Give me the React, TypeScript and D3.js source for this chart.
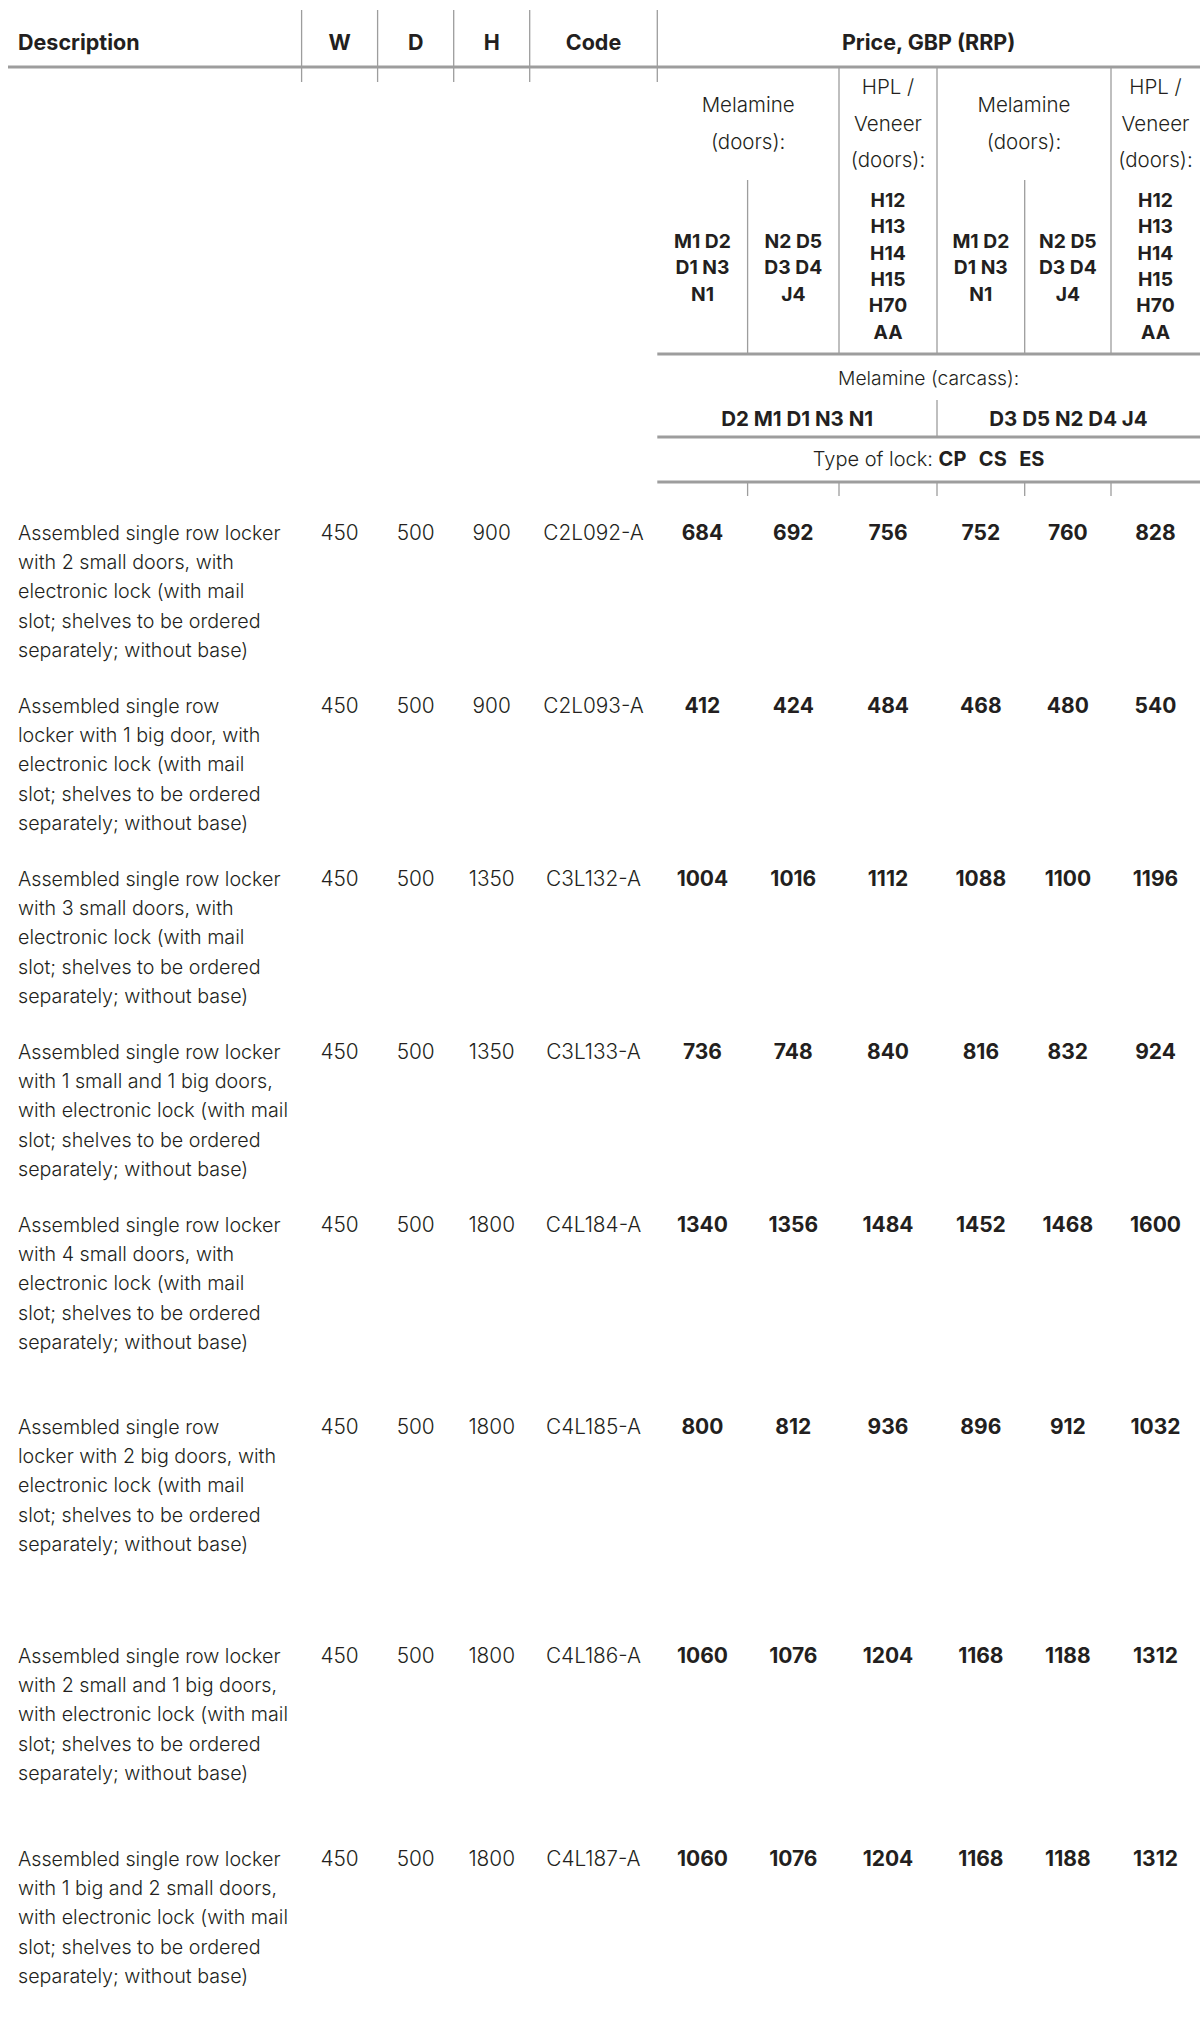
import React from "react";
import * as d3 from "d3";

// ---------- DATA ----------
const headerLabels = ["Description", "W", "D", "H", "Code"];
const priceTitle = "Price, GBP (RRP)";
const melamineDoorsLabel = ["Melamine", "(doors):"];
const hplDoorsLabel = ["HPL /", "Veneer", "(doors):"];
const melamineGroup1 = ["M1 D2", "D1 N3", "N1"];
const melamineGroup2 = ["N2 D5", "D3 D4", "J4"];
const hplGroup = ["H12", "H13", "H14", "H15", "H70", "AA"];
const carcassLabel = "Melamine (carcass):";
const carcassGroups = ["D2 M1 D1 N3 N1", "D3 D5 N2 D4 J4"];
const lockLabel = "Type of lock:";
const lockTypes = "CP  CS  ES";

const descriptions: string[][] = [
  ["Assembled single row locker", "with 2 small doors, with", "electronic lock (with mail", "slot; shelves to be ordered", "separately; without base)"],
  ["Assembled single row", "locker with 1 big door, with", "electronic lock (with mail", "slot; shelves to be ordered", "separately; without base)"],
  ["Assembled single row locker", "with 3 small doors, with", "electronic lock (with mail", "slot; shelves to be ordered", "separately; without base)"],
  ["Assembled single row locker", "with 1 small and 1 big doors,", "with electronic lock (with mail", "slot; shelves to be ordered", "separately; without base)"],
  ["Assembled single row locker", "with 4 small doors, with", "electronic lock (with mail", "slot; shelves to be ordered", "separately; without base)"],
  ["Assembled single row", "locker with 2 big doors, with", "electronic lock (with mail", "slot; shelves to be ordered", "separately; without base)"],
  ["Assembled single row locker", "with 2 small and 1 big doors,", "with electronic lock (with mail", "slot; shelves to be ordered", "separately; without base)"],
  ["Assembled single row locker", "with 1 big and 2 small doors,", "with electronic lock (with mail", "slot; shelves to be ordered", "separately; without base)"],
];
const widthsMM = [450, 450, 450, 450, 450, 450, 450, 450];
const depthsMM = [500, 500, 500, 500, 500, 500, 500, 500];
const heightsMM = [900, 900, 1350, 1350, 1800, 1800, 1800, 1800];
const codes = ["C2L092-A", "C2L093-A", "C3L132-A", "C3L133-A", "C4L184-A", "C4L185-A", "C4L186-A", "C4L187-A"];

const priceCarcassA_Mel1 = [684, 412, 1004, 736, 1340, 800, 1060, 1060];
const priceCarcassA_Mel2 = [692, 424, 1016, 748, 1356, 812, 1076, 1076];
const priceCarcassA_HPL = [756, 484, 1112, 840, 1484, 936, 1204, 1204];
const priceCarcassB_Mel1 = [752, 468, 1088, 816, 1452, 896, 1168, 1168];
const priceCarcassB_Mel2 = [760, 480, 1100, 832, 1468, 912, 1188, 1188];
const priceCarcassB_HPL = [828, 540, 1196, 924, 1600, 1032, 1312, 1312];

// ---------- LAYOUT ----------
const WIDTH = 1200;
const HEIGHT = 2022;
const colKeys = ["desc", "w", "d", "h", "code", "p1", "p2", "p3", "p4", "p5", "p6"];
const colEdges = [8, 301.6, 377.6, 453.7, 529.7, 657.3, 747.6, 839, 937, 1024.7, 1111, 1200];
const rowTops = [533, 706, 879, 1052, 1225, 1427, 1656, 1859];

const INK = "#231f20";
const RULE = "#9d9d9d";
const FONT = "Inter, 'Noto Sans', sans-serif";

export default function App() {
  const colIndex = d3.scaleOrdinal<string, number>().domain(colKeys).range(d3.range(colKeys.length));
  const left = (k: string) => colEdges[colIndex(k)];
  const right = (k: string) => colEdges[colIndex(k) + 1];
  const center = (k: string) => (left(k) + right(k)) / 2;

  const rowY = d3.scaleOrdinal<number, number>().domain(d3.range(rowTops.length)).range(rowTops);
  const lineY = d3.scaleLinear().domain([0, 1]).range([0, 29.3]);

  const priceCols = [priceCarcassA_Mel1, priceCarcassA_Mel2, priceCarcassA_HPL, priceCarcassB_Mel1, priceCarcassB_Mel2, priceCarcassB_HPL];
  const priceKeys = ["p1", "p2", "p3", "p4", "p5", "p6"];

  const headerY = 42;
  const priceLeft = left("p1");

  const bodyStyle = { fontFamily: FONT, fontWeight: 300, fontSize: 19.7, fill: INK } as const;
  const numStyle = { fontFamily: FONT, fontWeight: 300, fontSize: 20.8, fill: INK } as const;
  const priceStyle = { fontFamily: FONT, fontWeight: 700, fontSize: 21, fill: INK } as const;
  const headStyle = { fontFamily: FONT, fontWeight: 700, fontSize: 21.5, fill: INK } as const;
  const subLabel = { fontFamily: FONT, fontWeight: 300, fontSize: 20.5, fill: INK } as const;
  const codeStyle = { fontFamily: FONT, fontWeight: 700, fontSize: 19.3, fill: INK } as const;

  const subLabelY = d3.scaleLinear().domain([0, 1]).range([0, 36.5]);
  const codeLineY = d3.scaleLinear().domain([0, 1]).range([0, 26.4]);

  return (
    <div style={{ position: "absolute", left: 0, top: 0, width: WIDTH, height: HEIGHT, background: "#fff" }}>
      <svg width={WIDTH} height={HEIGHT} viewBox={`0 0 ${WIDTH} ${HEIGHT}`}>
        <rect x={0} y={0} width={WIDTH} height={HEIGHT} fill="#fff" />

        {/* Header verticals */}
        {["w", "d", "h", "code", "p1"].map((k) => (
          <line key={"hv" + k} x1={left(k)} x2={left(k)} y1={10} y2={82} stroke={RULE} strokeWidth={1.3} />
        ))}
        {/* Header bottom rule */}
        <line x1={colEdges[0]} x2={WIDTH} y1={67} y2={67} stroke={RULE} strokeWidth={3} />

        {/* Header labels */}
        <text x={18} y={headerY} dy="0.35em" style={headStyle}>
          {headerLabels[0]}
        </text>
        {["w", "d", "h", "code"].map((k, i) => (
          <text key={"hl" + k} x={center(k)} y={headerY} dy="0.35em" textAnchor="middle" style={headStyle}>
            {headerLabels[i + 1]}
          </text>
        ))}
        <text x={(priceLeft + WIDTH) / 2} y={headerY} dy="0.35em" textAnchor="middle" style={headStyle}>
          {priceTitle}
        </text>

        {/* Sub-header full-height verticals */}
        {["p3", "p4", "p6"].map((k) => (
          <line key={"sv" + k} x1={left(k)} x2={left(k)} y1={67} y2={354} stroke={RULE} strokeWidth={1.3} />
        ))}
        {["p2", "p5"].map((k) => (
          <line key={"sv2" + k} x1={left(k)} x2={left(k)} y1={180} y2={354} stroke={RULE} strokeWidth={1.3} />
        ))}

        {/* Melamine (doors) labels */}
        {[
          [left("p1"), right("p2")],
          [left("p4"), right("p5")],
        ].map(([a, b], gi) =>
          melamineDoorsLabel.map((t, i) => (
            <text key={"ml" + gi + i} x={(a + b) / 2} y={106 + subLabelY(i) - 1} dy="0.35em" textAnchor="middle" style={subLabel}>
              {t}
            </text>
          ))
        )}
        {/* HPL labels */}
        {["p3", "p6"].map((k) =>
          hplDoorsLabel.map((t, i) => (
            <text key={"hp" + k + i} x={center(k)} y={87 + subLabelY(i)} dy="0.35em" textAnchor="middle" style={subLabel}>
              {t}
            </text>
          ))
        )}
        {/* colour code groups */}
        {[
          ["p1", melamineGroup1],
          ["p2", melamineGroup2],
          ["p4", melamineGroup1],
          ["p5", melamineGroup2],
        ].map(([k, g]) =>
          (g as string[]).map((t, i) => (
            <text key={"cg" + k + i} x={center(k as string)} y={241 + codeLineY(i)} dy="0.35em" textAnchor="middle" style={codeStyle}>
              {t}
            </text>
          ))
        )}
        {["p3", "p6"].map((k) =>
          hplGroup.map((t, i) => (
            <text key={"hg" + k + i} x={center(k)} y={200 + codeLineY(i)} dy="0.35em" textAnchor="middle" style={codeStyle}>
              {t}
            </text>
          ))
        )}

        {/* Rules below sub-header */}
        <line x1={priceLeft} x2={WIDTH} y1={354} y2={354} stroke={RULE} strokeWidth={3} />
        <text x={(priceLeft + WIDTH) / 2} y={378} dy="0.35em" textAnchor="middle" style={{ ...subLabel, fontSize: 19.3 }}>
          {carcassLabel}
        </text>
        <line x1={left("p4")} x2={left("p4")} y1={400} y2={437} stroke={RULE} strokeWidth={1.3} />
        <text x={(left("p1") + right("p3")) / 2} y={419} dy="0.35em" textAnchor="middle" style={{ ...codeStyle, fontSize: 20.5 }}>
          {carcassGroups[0]}
        </text>
        <text x={(left("p4") + right("p6")) / 2} y={419} dy="0.35em" textAnchor="middle" style={{ ...codeStyle, fontSize: 20.5 }}>
          {carcassGroups[1]}
        </text>
        <line x1={priceLeft} x2={WIDTH} y1={437} y2={437} stroke={RULE} strokeWidth={3} />
        <text x={(priceLeft + WIDTH) / 2} y={459} dy="0.35em" textAnchor="middle" style={{ ...subLabel, fontSize: 20 }}>
          <tspan>{lockLabel} </tspan>
          <tspan style={{ fontWeight: 700, wordSpacing: 1.5 }} xmlSpace="preserve">{lockTypes}</tspan>
        </text>
        <line x1={priceLeft} x2={WIDTH} y1={482} y2={482} stroke={RULE} strokeWidth={3} />
        {["p2", "p3", "p4", "p5", "p6"].map((k) => (
          <line key={"st" + k} x1={left(k)} x2={left(k)} y1={482} y2={496} stroke={RULE} strokeWidth={1.3} />
        ))}

        {/* Body rows */}
        {descriptions.map((lines, r) => (
          <g key={"row" + r}>
            {lines.map((t, i) => (
              <text key={i} x={18} y={rowY(r) + lineY(i)} dy="0.35em" style={bodyStyle}>
                {t}
              </text>
            ))}
            <text x={center("w")} y={rowY(r)} dy="0.35em" textAnchor="middle" style={numStyle}>{widthsMM[r]}</text>
            <text x={center("d")} y={rowY(r)} dy="0.35em" textAnchor="middle" style={numStyle}>{depthsMM[r]}</text>
            <text x={center("h")} y={rowY(r)} dy="0.35em" textAnchor="middle" style={numStyle}>{heightsMM[r]}</text>
            <text x={center("code")} y={rowY(r)} dy="0.35em" textAnchor="middle" style={numStyle}>{codes[r]}</text>
            {priceCols.map((col, c) => (
              <text key={"p" + c} x={center(priceKeys[c])} y={rowY(r)} dy="0.35em" textAnchor="middle" style={priceStyle}>
                {col[r]}
              </text>
            ))}
          </g>
        ))}
      </svg>
    </div>
  );
}
